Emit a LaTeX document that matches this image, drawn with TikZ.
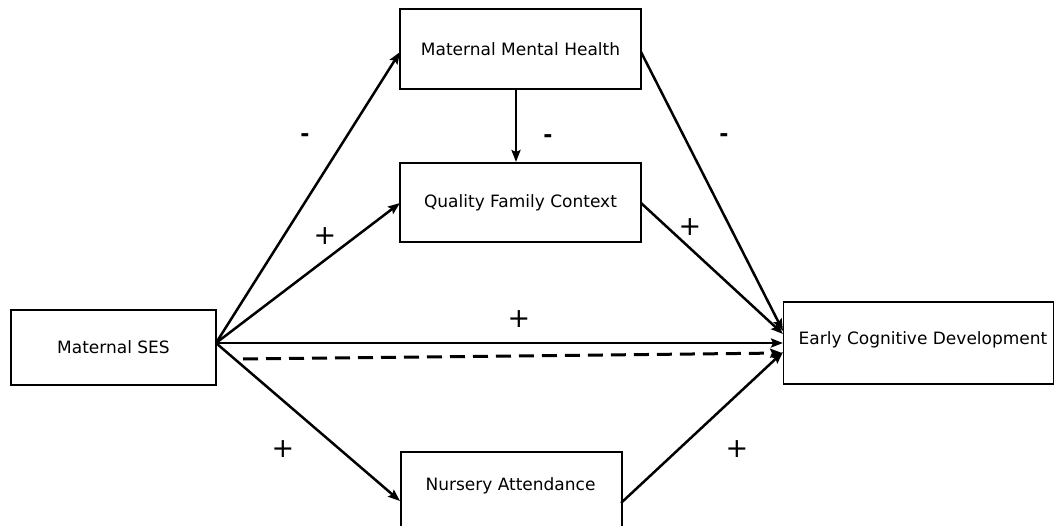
\documentclass[tikz,border=0pt]{standalone}
\usepackage{fontspec}
\setmainfont{DejaVu Sans}
\usetikzlibrary{arrows.meta}
\begin{document}
\begin{tikzpicture}[x=1pt,y=-1pt,
  box/.style={draw,line width=1.6pt,inner sep=0pt,font=\fontsize{17}{20}\selectfont},
  lbl/.style={font=\fontsize{17}{20}\selectfont},
  path/.style={line width=2.5pt,-{Stealth[length=12pt,width=9pt,inset=2pt]}},
  minus/.style={font=\bfseries\fontsize{22}{24}\selectfont},
  plus/.style={font=\fontsize{27}{29}\selectfont}]
\useasboundingbox (0,0) rectangle (1056,526);
% boxes
\node[box,minimum width=205pt,minimum height=75pt] (ses) at (113.5,347.5) {Maternal SES};
\node[box,minimum width=241pt,minimum height=80pt] (mmh) at (520.5,49) {Maternal Mental Health};
\node[box,minimum width=241pt,minimum height=79pt] (qfc) at (520.5,202.5) {Quality Family Context};
\node[box,minimum width=221pt,minimum height=80pt,anchor=north west] (nur) at (400,451) {};
\node[lbl] (nurt) at (510.5,486) {Nursery Attendance};
\node[box,minimum width=270pt,minimum height=82pt] (ecd) at (918.5,343) {};
\node[lbl] (ecdt) at (923,340) {Early Cognitive Development};
% helper points
\coordinate (sesR) at (216,343);
\coordinate (dashA) at (243,359);
\coordinate (dashB) at (782,353);
% connectors
\draw[path] (sesR) -- (400,52);
\draw[path] (sesR) -- (400,203);
\draw[path] (sesR) -- (783,343);
\draw[path] (sesR) -- (400,501);
\draw[path] (516,90) -- (516,162);
\draw[path] (641,52) -- (783,331);
\draw[path] (641,203) -- (783,334);
\draw[path] (621,503) -- (783,352);
\draw[path,line width=3pt,dash pattern=on 15pt off 8pt] (dashA) -- (dashB);
% signs
\node[minus] (s1) at (305,138) {-};
\node[plus] (s2) at (325,236) {+};
\node[minus] (s3) at (548,139) {-};
\node[minus] (s4) at (724,138) {-};
\node[plus] (s5) at (690,227) {+};
\node[plus] (s6) at (519,319) {+};
\node[plus] (s7) at (283,449) {+};
\node[plus] (s8) at (737,449) {+};
\end{tikzpicture}
\end{document}
